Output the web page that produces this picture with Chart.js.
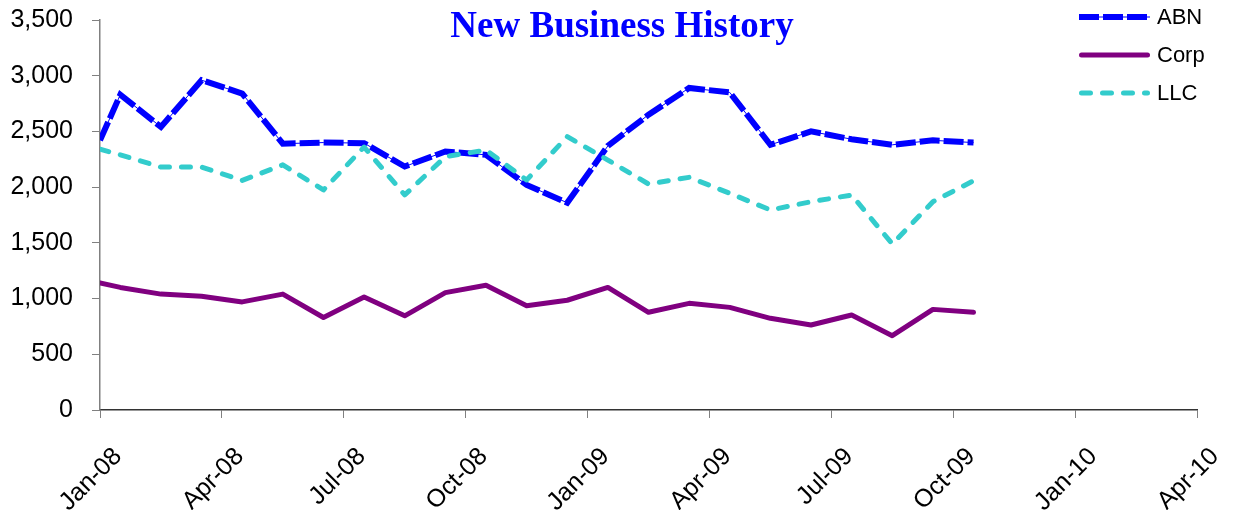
<!DOCTYPE html>
<html>
<head>
<meta charset="utf-8">
<script src="https://cdn.jsdelivr.net/npm/chart.js@4.4.0/dist/chart.umd.min.js"></script>
<style>
  html, body { margin: 0; padding: 0; background: #fff; }
  #wrap { width: 1234px; height: 510px; }
</style>
</head>
<body>
<div id="wrap"><canvas id="chart" width="1234" height="510"></canvas></div>
<script>
// x = months since Jan-08 (first value sits on the axis, the rest mid-month)
const months = [0, 0.5, 1.5, 2.5, 3.5, 4.5, 5.5, 6.5, 7.5, 8.5, 9.5, 10.5, 11.5, 12.5, 13.5, 14.5, 15.5, 16.5, 17.5, 18.5, 19.5, 20.5, 21.5];
const abn  = [2420, 2830, 2540, 2960, 2840, 2390, 2400, 2395, 2185, 2320, 2290, 2020, 1860, 2370, 2650, 2890, 2850, 2380, 2500, 2430, 2380, 2420, 2400];
const corp = [1140, 1100, 1040, 1020, 970, 1040, 830, 1015, 845, 1053, 1120, 935, 985, 1100, 877, 957, 921, 823, 763, 853, 667, 903, 877];
const llc  = [2340, 2290, 2180, 2180, 2060, 2200, 1975, 2360, 1930, 2273, 2333, 2064, 2453, 2243, 2028, 2088, 1945, 1795, 1869, 1929, 1490, 1869, 2057];
const tickLabels = ['Jan-08', 'Apr-08', 'Jul-08', 'Oct-08', 'Jan-09', 'Apr-09', 'Jul-09', 'Oct-09', 'Jan-10', 'Apr-10'];
const seriesNames = ['ABN', 'Corp', 'LLC'];

const FONT = '"Liberation Sans", Arial, sans-serif';

function points(values) {
  return values.map((v, i) => ({ x: months[i], y: v }));
}

// title + legend drawn on top of the plot, like the original
const overlay = {
  id: 'overlay',
  afterDraw(chart) {
    const ctx = chart.ctx;
    ctx.save();
    ctx.font = 'bold 37px "Liberation Serif", "Times New Roman", serif';
    ctx.fillStyle = '#0000FF';
    ctx.textAlign = 'center';
    ctx.textBaseline = 'alphabetic';
    ctx.fillText('New Business History', 622, 37);

    const rows = [17, 55, 93];
    seriesNames.forEach((name, i) => {
      const ds = chart.data.datasets.find(d => d.label === name);
      const y = rows[i];
      if (ds.label === 'ABN') {
        // thin line under the dashes
        ctx.strokeStyle = ds.borderColor;
        ctx.lineWidth = 1;
        ctx.setLineDash([]);
        ctx.beginPath(); ctx.moveTo(1079, y); ctx.lineTo(1150, y); ctx.stroke();
      }
      const round = ds.borderCapStyle === 'round';
      ctx.strokeStyle = ds.borderColor;
      ctx.lineWidth = ds.borderWidth;
      ctx.lineCap = ds.borderCapStyle || 'butt';
      ctx.setLineDash(ds.borderDash || []);
      ctx.beginPath();
      ctx.moveTo(1079 + (round ? ds.borderWidth / 2 : 0), y);
      ctx.lineTo(1150 - (round ? ds.borderWidth / 2 : 0), y);
      ctx.stroke();
      ctx.setLineDash([]);
      ctx.fillStyle = '#000';
      ctx.font = '22px ' + FONT;
      ctx.textAlign = 'left';
      ctx.textBaseline = 'middle';
      ctx.fillText(name, 1157, y + 1);
    });
    ctx.restore();
  }
};

new Chart(document.getElementById('chart'), {
  type: 'line',
  data: {
    datasets: [
      {
        label: 'LLC',
        data: points(llc),
        borderColor: '#33CCCC',
        borderWidth: 5,
        borderDash: [9, 12],
        borderCapStyle: 'round',
        borderJoinStyle: 'round',
        order: 0
      },
      {
        label: 'Corp',
        data: points(corp),
        borderColor: '#800080',
        borderWidth: 5,
        borderCapStyle: 'round',
        borderJoinStyle: 'round',
        order: 1
      },
      {
        label: 'ABN',
        data: points(abn),
        borderColor: '#0000FF',
        borderWidth: 6,
        borderDash: [20, 4],
        order: 2
      },
      {
        label: 'ABN line',
        data: points(abn),
        borderColor: '#0000FF',
        borderWidth: 1,
        order: 3
      }
    ]
  },
  options: {
    responsive: false,
    animation: false,
    devicePixelRatio: 1,
    layout: { autoPadding: false, padding: { top: 20, right: 37, left: 0, bottom: 0 } },
    elements: { point: { radius: 0 }, line: { tension: 0 } },
    plugins: { legend: { display: false }, tooltip: { enabled: false }, title: { display: false } },
    scales: {
      x: {
        type: 'linear',
        min: 0,
        max: 27,
        afterFit: s => { s.height = 100; s.paddingLeft = 0; s.paddingRight = 0; },
        afterBuildTicks: s => { s.ticks = tickLabels.map((t, i) => ({ value: i * 3 })); },
        ticks: {
          callback: v => tickLabels[Math.round(v / 3)],
          minRotation: 45,
          maxRotation: 45,
          autoSkip: false,
          padding: 24,
          labelOffset: 18,
          color: '#000',
          font: { family: FONT, size: 25 }
        },
        grid: { drawOnChartArea: false, drawTicks: true, tickLength: 8, color: '#808080' },
        border: { color: '#333333', width: 1.5 }
      },
      y: {
        min: 0,
        max: 3500,
        afterFit: s => { s.width = 100; s.paddingTop = 0; s.paddingBottom = 0; },
        ticks: {
          stepSize: 500,
          callback: v => v.toLocaleString('en-US'),
          padding: 19,
          color: '#000',
          font: { family: FONT, size: 25 }
        },
        grid: { drawOnChartArea: false, drawTicks: true, tickLength: 8, color: '#808080' },
        border: { color: '#808080', width: 1.5 }
      }
    }
  },
  plugins: [overlay]
});
</script>
</body>
</html>
